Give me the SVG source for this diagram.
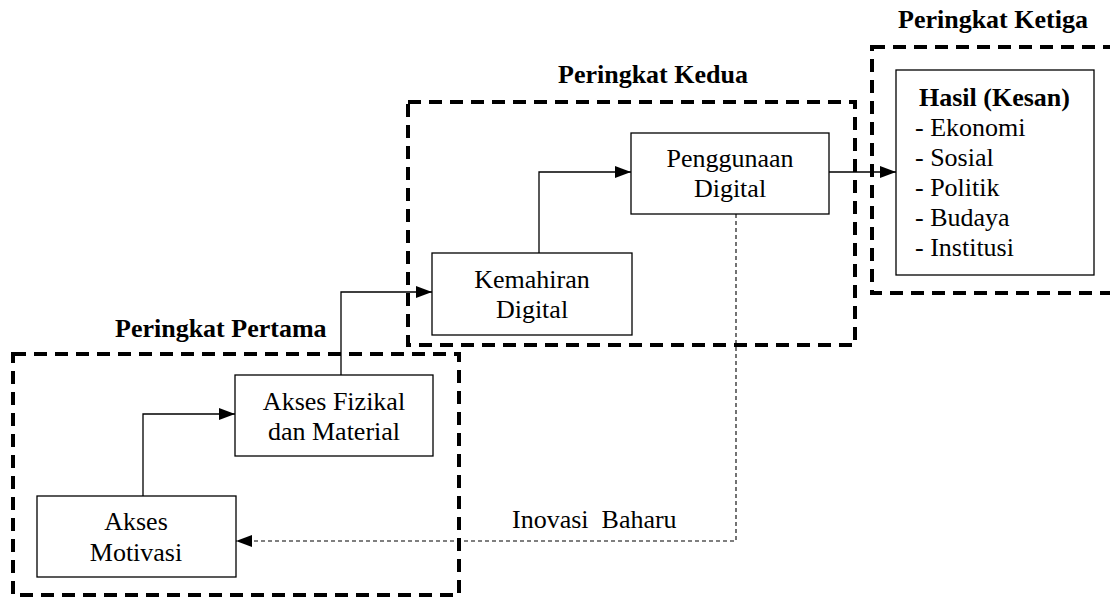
<svg xmlns="http://www.w3.org/2000/svg" width="1110" height="598" viewBox="0 0 1110 598">
<defs>
<style>
.t{font-family:"Liberation Serif","Times New Roman",serif;font-size:26px;fill:#000}
.c{text-anchor:middle}
.b{font-weight:bold}
.box{fill:#fff;stroke:#000;stroke-width:1.3}
.zone{fill:none;stroke:#000;stroke-width:4;stroke-dasharray:13 8}
.ln{fill:none;stroke:#000;stroke-width:1.3}
.dl{fill:none;stroke:#000;stroke-width:1.1;stroke-dasharray:4 3}
</style>
<marker id="ah" viewBox="0 0 16 12" refX="16" refY="6" markerWidth="16" markerHeight="12" markerUnits="userSpaceOnUse" orient="auto">
<path d="M0,0 L16,6 L0,12 Z" fill="#000"/>
</marker>
</defs>
<rect width="1110" height="598" fill="#fff"/>
<g id="zones">
<rect class="zone" x="13" y="354" width="446" height="241"/>
<rect class="zone" x="408" y="102" width="447" height="243"/>
<rect class="zone" x="872" y="47" width="260" height="246"/>
<text class="t b" x="115" y="337">Peringkat Pertama</text>
<text class="t b" x="558" y="83">Peringkat Kedua</text>
<text class="t b" x="898" y="28">Peringkat Ketiga</text>
</g>
<g id="connectors">
<path class="ln" d="M143,496 V414 H235" marker-end="url(#ah)"/>
<path class="ln" d="M341,375 V292 H432" marker-end="url(#ah)"/>
<path class="ln" d="M539,253 V172 H631" marker-end="url(#ah)"/>
<path class="ln" d="M829,172 H896" marker-end="url(#ah)"/>
<path class="dl" d="M736,214 V541 H236" marker-end="url(#ah)"/>
<text class="t" x="512" y="528" xml:space="preserve" style="white-space:pre">Inovasi  Baharu</text>
</g>
<g id="akses-motivasi">
<rect class="box" x="37" y="496" width="199" height="81"/>
<text class="t c" x="136" y="530">Akses</text>
<text class="t c" x="136" y="561">Motivasi</text>
</g>
<g id="akses-fizikal">
<rect class="box" x="235" y="375" width="198" height="81"/>
<text class="t c" x="334" y="410">Akses Fizikal</text>
<text class="t c" x="334" y="440">dan Material</text>
</g>
<g id="kemahiran">
<rect class="box" x="432" y="253" width="200" height="82"/>
<text class="t c" x="532" y="288">Kemahiran</text>
<text class="t c" x="532" y="318">Digital</text>
</g>
<g id="penggunaan">
<rect class="box" x="631" y="133" width="198" height="81"/>
<text class="t c" x="730" y="167">Penggunaan</text>
<text class="t c" x="730" y="197">Digital</text>
</g>
<g id="hasil">
<rect class="box" x="896" y="70" width="198" height="205"/>
<text class="t b" x="919" y="106">Hasil (Kesan)</text>
<text class="t" x="915" y="136">- Ekonomi</text>
<text class="t" x="915" y="166">- Sosial</text>
<text class="t" x="915" y="196">- Politik</text>
<text class="t" x="915" y="226">- Budaya</text>
<text class="t" x="915" y="256">- Institusi</text>
</g>
</svg>
